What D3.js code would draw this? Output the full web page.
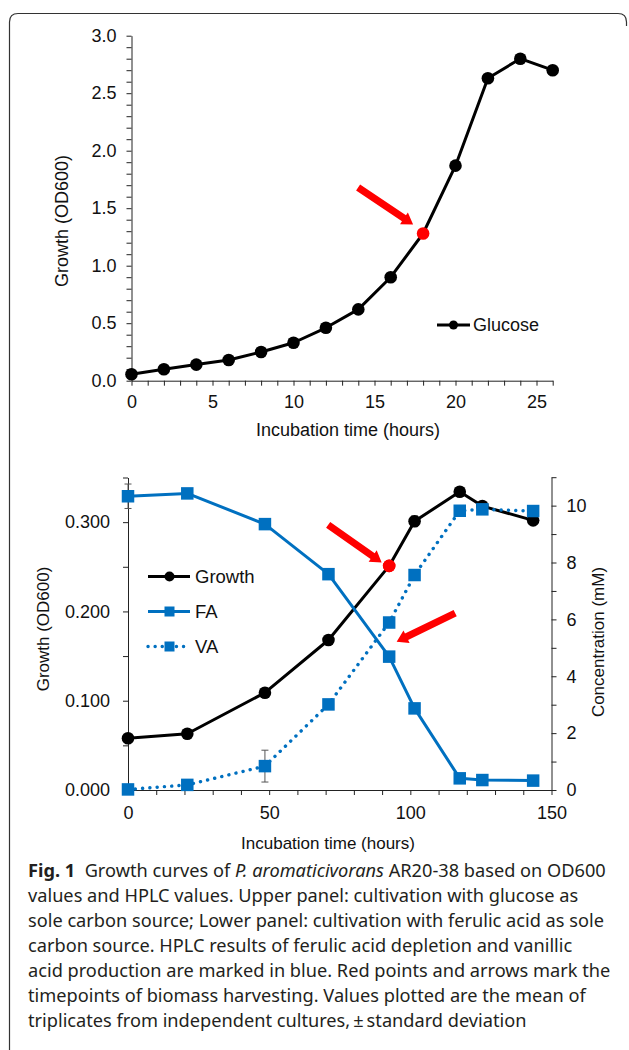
<!DOCTYPE html>
<html>
<head>
<meta charset="utf-8">
<script src="https://cdn.jsdelivr.net/npm/d3@7"></script>
<style>
  body { margin: 0; background: #fff; }
  svg { display: block; }
  .chart text { font-family: "Liberation Sans", Arial, sans-serif; fill: #111; }
  .caption text { font-family: "Noto Sans", sans-serif; fill: #231f20; }
</style>
</head>
<body>
<svg id="fig" width="629" height="1050"></svg>
<script>
// upper panel: growth on glucose
const glcHours = [0, 2, 4, 6, 8, 10, 12, 14, 16, 18, 20, 22, 24, 26];
const glcOD = [0.056, 0.10, 0.14, 0.18, 0.25, 0.33, 0.46, 0.62, 0.90, 1.28, 1.87, 2.63, 2.80, 2.70];
const glcHarvest = 18;

// lower panel: growth on ferulic acid + HPLC
const faHours = [0, 21, 48.5, 71, 92.5, 101.5, 117.5, 125.5, 143.5];
const faGrowth = [0.058, 0.063, 0.109, 0.168, 0.251, 0.301, 0.334, 0.318, 0.302];
const faGrowthSd = [0, 0, 0, 0, 0, 0.006, 0, 0, 0];
const faConc = [10.33, 10.43, 9.35, 7.59, 4.69, 2.87, 0.41, 0.35, 0.33];
const faConcSd = [0.43, 0, 0, 0, 0, 0, 0, 0, 0];
const vaConc = [0.02, 0.18, 0.84, 3.01, 5.89, 7.56, 9.82, 9.87, 9.81];
const vaConcSd = [0, 0, 0.56, 0, 0, 0, 0, 0, 0];
const faHarvest = 92.5;

const captionLines = [
  [["b", "Fig. 1"], ["r", "  Growth curves of "], ["i", "P. aromaticivorans"], ["r", " AR20-38 based on OD600"]],
  [["r", "values and HPLC values. Upper panel: cultivation with glucose as"]],
  [["r", "sole carbon source; Lower panel: cultivation with ferulic acid as sole"]],
  [["r", "carbon source. HPLC results of ferulic acid depletion and vanillic"]],
  [["r", "acid production are marked in blue. Red points and arrows mark the"]],
  [["r", "timepoints of biomass harvesting. Values plotted are the mean of"]],
  [["r", "triplicates from independent cultures,\u2009\u00b1\u2009standard deviation"]]
];

const blue = "#0070c0";
const red = "#ff0000";

const svg = d3.select("#fig");
svg.append("rect").attr("width", 629).attr("height", 1050).attr("fill", "#fff");

// frame round the figure
svg.append("path")
  .attr("d", "M9.5,1050 V22 Q9.5,13.5 18,13.5 H618 Q626.5,13.5 626.5,22 V26")
  .attr("fill", "none").attr("stroke", "#333").attr("stroke-width", 1.2);

function styleAxis(g) {
  g.attr("font-size", 18).attr("font-family", null).attr("color", "#222");
  g.selectAll("text").attr("font-family", "'Liberation Sans', Arial, sans-serif");
}

function arrow(g, x1, y1, x2, y2) {
  // thick red arrow from tail (x1,y1) to tip (x2,y2)
  const dx = x2 - x1, dy = y2 - y1, len = Math.hypot(dx, dy);
  const ux = dx / len, uy = dy / len, px = -uy, py = ux;
  const sw = 3.6, hw = 7, hl = 11;
  const bx = x2 - ux * hl, by = y2 - uy * hl;
  const pts = [
    [x1 + px * sw, y1 + py * sw], [bx + px * sw, by + py * sw], [bx + px * hw, by + py * hw],
    [x2, y2],
    [bx - px * hw, by - py * hw], [bx - px * sw, by - py * sw], [x1 - px * sw, y1 - py * sw]
  ];
  g.append("polygon").attr("points", pts.map(p => p.join(",")).join(" ")).attr("fill", red);
}

// ---------- upper panel ----------
const upper = svg.append("g").attr("class", "chart");
const x1 = d3.scaleLinear().domain([0, 26]).range([131.5, 552.7]);
const y1 = d3.scaleLinear().domain([0, 3]).range([380.7, 35.7]);

upper.append("g")
  .attr("transform", `translate(0,${y1(0)})`)
  .call(d3.axisBottom(x1).tickValues(d3.range(0, 27, 1)).tickSize(5).tickSizeOuter(0).tickPadding(10)
    .tickFormat(d => d % 5 === 0 ? d : ""))
  .call(styleAxis);

upper.append("g")
  .attr("transform", `translate(${x1(0)},0)`)
  .call(d3.axisLeft(y1).tickValues(d3.range(0, 31, 1).map(d => d / 10)).tickSize(5).tickSizeOuter(0).tickPadding(10)
    .tickFormat(d => Math.round(d * 10) % 5 === 0 ? d.toFixed(1) : ""))
  .call(styleAxis);

upper.append("text").attr("x", 348).attr("y", 430).attr("dy", "0.35em")
  .attr("text-anchor", "middle").attr("font-size", 18).text("Incubation time (hours)");
upper.append("text").attr("transform", "translate(62,221) rotate(-90)").attr("dy", "0.35em")
  .attr("text-anchor", "middle").attr("font-size", 18).text("Growth (OD600)");

const glcLine = d3.line().x((d, i) => x1(glcHours[i])).y(d => y1(d));
upper.append("path").datum(glcOD).attr("d", glcLine)
  .attr("fill", "none").attr("stroke", "#000").attr("stroke-width", 3).attr("stroke-linejoin", "round");
upper.selectAll("circle.glc").data(glcOD).enter().append("circle")
  .attr("cx", (d, i) => x1(glcHours[i])).attr("cy", d => y1(d)).attr("r", 6.3)
  .attr("fill", (d, i) => glcHours[i] === glcHarvest ? red : "#000");

const hx = x1(glcHarvest), hy = y1(glcOD[glcHours.indexOf(glcHarvest)]);
arrow(upper, hx - 65, hy - 46, hx - 10, hy - 9);

// legend
upper.append("line").attr("x1", 437).attr("x2", 470).attr("y1", 325).attr("y2", 325)
  .attr("stroke", "#000").attr("stroke-width", 3);
upper.append("circle").attr("cx", 453.5).attr("cy", 325).attr("r", 4.5).attr("fill", "#000");
upper.append("text").attr("x", 473).attr("y", 325).attr("dy", "0.35em").attr("font-size", 18).text("Glucose");

// ---------- lower panel ----------
const lower = svg.append("g").attr("class", "chart");
const x2 = d3.scaleLinear().domain([0, 150]).range([128, 551.5]);
const yL = d3.scaleLinear().domain([0, 0.35]).range([790, 477.5]);
const yR = d3.scaleLinear().domain([0, 11]).range([790, 477.2]);

lower.append("g")
  .attr("transform", `translate(0,${yL(0)})`)
  .call(d3.axisBottom(x2).tickValues(d3.range(0, 151, 10)).tickSize(5).tickSizeOuter(0).tickPadding(11.5)
    .tickFormat(d => d % 50 === 0 ? d : ""))
  .call(styleAxis);

lower.append("g")
  .attr("transform", `translate(${x2(0)},0)`)
  .call(d3.axisLeft(yL).tickValues(d3.range(0, 8, 1).map(d => d * 0.05)).tickSize(5).tickSizeOuter(0).tickPadding(13)
    .tickFormat(d => Math.round(d * 100) % 10 === 0 ? d.toFixed(3) : ""))
  .call(styleAxis);

lower.append("g")
  .attr("transform", `translate(${x2(150)},0)`)
  .call(d3.axisRight(yR).tickValues(d3.range(0, 12, 1)).tickSize(5).tickSizeOuter(0).tickPadding(10)
    .tickFormat(d => d % 2 === 0 ? d : ""))
  .call(styleAxis);

lower.append("text").attr("x", 328).attr("y", 843).attr("dy", "0.35em")
  .attr("text-anchor", "middle").attr("font-size", 17).text("Incubation time (hours)");
lower.append("text").attr("transform", "translate(43,629) rotate(-90)").attr("dy", "0.35em")
  .attr("text-anchor", "middle").attr("font-size", 17).text("Growth (OD600)");
lower.append("text").attr("transform", "translate(598,642) rotate(-90)").attr("dy", "0.35em")
  .attr("text-anchor", "middle").attr("font-size", 17).text("Concentration (mM)");

// error bars
function errorBars(vals, sds, yScale) {
  vals.forEach((v, i) => {
    if (!sds[i]) return;
    const cx = x2(faHours[i]), lo = yScale(v - sds[i]), hi = yScale(v + sds[i]);
    const g = lower.append("g").attr("stroke", "#555").attr("stroke-width", 1);
    g.append("line").attr("x1", cx).attr("x2", cx).attr("y1", lo).attr("y2", hi);
    g.append("line").attr("x1", cx - 3.5).attr("x2", cx + 3.5).attr("y1", lo).attr("y2", lo);
    g.append("line").attr("x1", cx - 3.5).attr("x2", cx + 3.5).attr("y1", hi).attr("y2", hi);
  });
}
errorBars(faGrowth, faGrowthSd, yL);
errorBars(faConc, faConcSd, yR);
errorBars(vaConc, vaConcSd, yR);

const lineL = d3.line().x((d, i) => x2(faHours[i])).y(d => yL(d));
const lineR = d3.line().x((d, i) => x2(faHours[i])).y(d => yR(d));

lower.append("path").datum(faGrowth).attr("d", lineL)
  .attr("fill", "none").attr("stroke", "#000").attr("stroke-width", 3).attr("stroke-linejoin", "round");
lower.selectAll("circle.gr").data(faGrowth).enter().append("circle")
  .attr("cx", (d, i) => x2(faHours[i])).attr("cy", d => yL(d)).attr("r", 6.3)
  .attr("fill", (d, i) => faHours[i] === faHarvest ? red : "#000");

lower.append("path").datum(faConc).attr("d", lineR)
  .attr("fill", "none").attr("stroke", blue).attr("stroke-width", 3).attr("stroke-linejoin", "round");
lower.append("path").datum(vaConc).attr("d", lineR)
  .attr("fill", "none").attr("stroke", blue).attr("stroke-width", 3.4)
  .attr("stroke-linecap", "round").attr("stroke-dasharray", "0.1 7.2");

const sq = 12.5;
[faConc, vaConc].forEach(series => {
  lower.append("g").selectAll("rect").data(series).enter().append("rect")
    .attr("x", (d, i) => x2(faHours[i]) - sq / 2).attr("y", d => yR(d) - sq / 2)
    .attr("width", sq).attr("height", sq).attr("fill", blue);
});

// redraw the harvest point so it sits above the blue marks
const hi2 = faHours.indexOf(faHarvest);
lower.append("circle").attr("cx", x2(faHarvest)).attr("cy", yL(faGrowth[hi2])).attr("r", 6.3).attr("fill", red);

const gx = x2(faHarvest), gy = yL(faGrowth[hi2]);
arrow(lower, gx - 61, gy - 41, gx - 7.5, gy - 3.5);
const fy = yR(faConc[hi2]);
arrow(lower, gx + 66, fy - 43.5, gx + 7.5, fy - 15);

// legend
const legend = lower.append("g");
const rows = [
  { name: "Growth", color: "#000", mark: "circle", dash: null, y: 576.5 },
  { name: "FA", color: blue, mark: "square", dash: null, y: 611.5 },
  { name: "VA", color: blue, mark: "square", dash: "0.1 7", y: 646.5 }
];
rows.forEach(r => {
  const l = legend.append("line").attr("x1", 148).attr("x2", 190).attr("y1", r.y).attr("y2", r.y)
    .attr("stroke", r.color).attr("stroke-width", r.dash ? 3.4 : 3);
  if (r.dash) l.attr("stroke-dasharray", r.dash).attr("stroke-linecap", "round");
  if (r.mark === "circle") {
    legend.append("circle").attr("cx", 169.5).attr("cy", r.y).attr("r", 5).attr("fill", r.color);
  } else {
    legend.append("rect").attr("x", 164.5).attr("y", r.y - 5).attr("width", 10).attr("height", 10).attr("fill", r.color);
  }
  legend.append("text").attr("x", 195).attr("y", r.y).attr("dy", "0.35em").attr("font-size", 18.5).text(r.name);
});

// ---------- caption ----------
const cap = svg.append("g").attr("class", "caption");
captionLines.forEach((parts, i) => {
  const t = cap.append("text").attr("x", 28).attr("y", 877 + i * 25).attr("font-size", 18.2)
    .attr("xml:space", "preserve");
  parts.forEach(([kind, s]) => {
    const sp = t.append("tspan").text(s);
    if (kind === "b") sp.attr("font-weight", "bold");
    if (kind === "i") sp.attr("font-style", "italic");
  });
});
</script>
</body>
</html>
